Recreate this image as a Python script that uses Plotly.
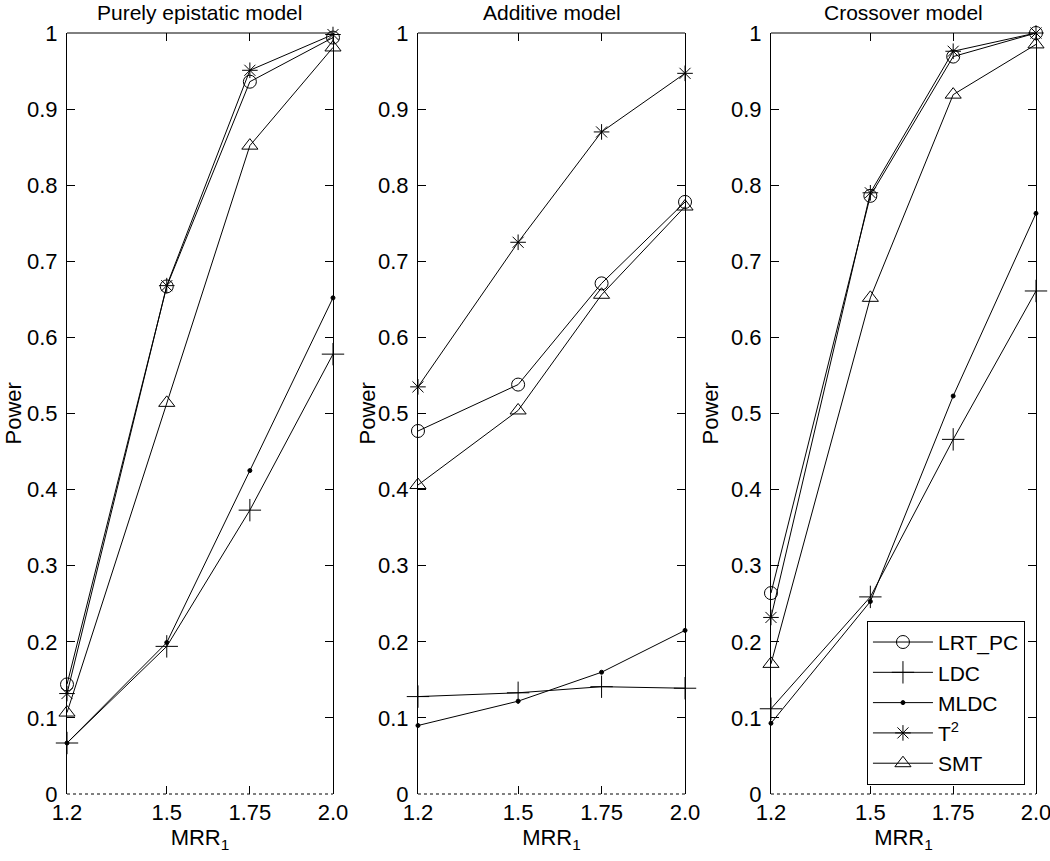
import plotly.graph_objects as go

mrr = [1.2, 1.5, 1.75, 2.0]
tick_text = ["1.2", "1.5", "1.75", "2.0"]
panel_titles = ["Purely epistatic model", "Additive model", "Crossover model"]
methods = ["LRT_PC", "LDC", "MLDC", "T<sup>2</sup>", "SMT"]

# Purely epistatic model
epi_lrt = [0.144, 0.667, 0.936, 0.994]
epi_ldc = [0.067, 0.194, 0.373, 0.578]
epi_mldc = [0.067, 0.199, 0.425, 0.652]
epi_t2 = [0.132, 0.668, 0.951, 0.998]
epi_smt = [0.107, 0.514, 0.852, 0.981]

# Additive model
add_lrt = [0.477, 0.538, 0.671, 0.778]
add_ldc = [0.128, 0.133, 0.141, 0.139]
add_mldc = [0.090, 0.122, 0.160, 0.215]
add_t2 = [0.535, 0.725, 0.870, 0.947]
add_smt = [0.406, 0.504, 0.656, 0.772]

# Crossover model
cro_lrt = [0.264, 0.786, 0.969, 1.000]
cro_ldc = [0.112, 0.259, 0.466, 0.661]
cro_mldc = [0.093, 0.253, 0.523, 0.763]
cro_t2 = [0.232, 0.790, 0.976, 1.000]
cro_smt = [0.171, 0.652, 0.919, 0.985]

panels = [
    [epi_lrt, epi_ldc, epi_mldc, epi_t2, epi_smt],
    [add_lrt, add_ldc, add_mldc, add_t2, add_smt],
    [cro_lrt, cro_ldc, cro_mldc, cro_t2, cro_smt],
]

symbols = ["circle-open", "cross-thin-open", "circle", "asterisk-open", "triangle-up-open"]
sizes = [13, 16, 4, 13, 14]

FONT = "Liberation Sans, Arial, sans-serif"
domains = [[0.0, 0.2745], [0.3622, 0.6378], [0.7265, 1.0]]
ytitle_x = [-0.0557, 0.3096, 0.6646]

fig = go.Figure()
for p, series in enumerate(panels):
    xa = "x" if p == 0 else f"x{p+1}"
    ya = "y" if p == 0 else f"y{p+1}"
    for m, vals in enumerate(series):
        fig.add_trace(go.Scatter(
            x=mrr, y=vals, mode="lines+markers", name=methods[m],
            xaxis=xa, yaxis=ya, cliponaxis=False,
            line=dict(color="black", width=1),
            marker=dict(symbol=symbols[m], size=sizes[m], color="black",
                        line=dict(color="black", width=1)),
            showlegend=(p == 2),
        ))

layout = dict(
    width=1050, height=861,
    margin=dict(l=67, r=14, t=33, b=67),
    paper_bgcolor="white", plot_bgcolor="white",
    font=dict(family=FONT, size=22, color="black"),
    showlegend=True,
    legend=dict(x=0.9886, xanchor="right", y=0.012, yanchor="bottom",
                bgcolor="white", bordercolor="black", borderwidth=1,
                font=dict(size=21), tracegroupgap=0, itemwidth=60),
    shapes=[], annotations=[],
)
for p in range(3):
    xk = "xaxis" if p == 0 else f"xaxis{p+1}"
    yk = "yaxis" if p == 0 else f"yaxis{p+1}"
    ya = "y" if p == 0 else f"y{p+1}"
    xa = "x" if p == 0 else f"x{p+1}"
    layout[xk] = dict(domain=domains[p], anchor=ya, range=[1.2, 2.0],
                      tickvals=mrr, ticktext=tick_text, ticks="inside", ticklen=8,
                      tickcolor="black", showline=False, mirror="ticks",
                      showgrid=False, zeroline=False, ticklabelstandoff=3,
                      ticklabeloverflow="allow",
                      tickfont=dict(size=22), automargin=False,
                      title=dict(text="MRR<sub>1</sub>", standoff=4, font=dict(size=22)))
    layout[yk] = dict(domain=[0, 1], anchor=xa, range=[0, 1], dtick=0.1,
                      ticks="inside", ticklen=8, tickcolor="black",
                      showline=True, linecolor="black", linewidth=1, mirror="ticks",
                      showgrid=False, zeroline=False, tickfont=dict(size=22),
                      ticklabelstandoff=4, automargin=False)
    layout["shapes"].append(dict(type="line", xref=f"{xa} domain", yref=f"{ya} domain",
                                 x0=0, x1=1, y0=1, y1=1,
                                 line=dict(color="black", width=1)))
    layout["shapes"].append(dict(type="line", xref=f"{xa} domain", yref=f"{ya} domain",
                                 x0=0, x1=1, y0=0, y1=0,
                                 line=dict(color="black", width=1, dash="dot")))
    layout["annotations"].append(dict(text=panel_titles[p], xref=f"{xa} domain",
                                      yref="paper", x=0.5, y=1.0, yshift=7,
                                      xanchor="center", yanchor="bottom",
                                      showarrow=False, font=dict(size=21)))
    layout["annotations"].append(dict(text="Power", xref="paper", yref="paper",
                                      x=ytitle_x[p], y=0.5, textangle=-90,
                                      xanchor="center", yanchor="middle",
                                      showarrow=False, font=dict(size=22)))

fig.update_layout(**layout)
fig.write_html("out.html", config={"displayModeBar": False},
               post_script="document.body.style.margin='0';document.body.style.padding='0';")
